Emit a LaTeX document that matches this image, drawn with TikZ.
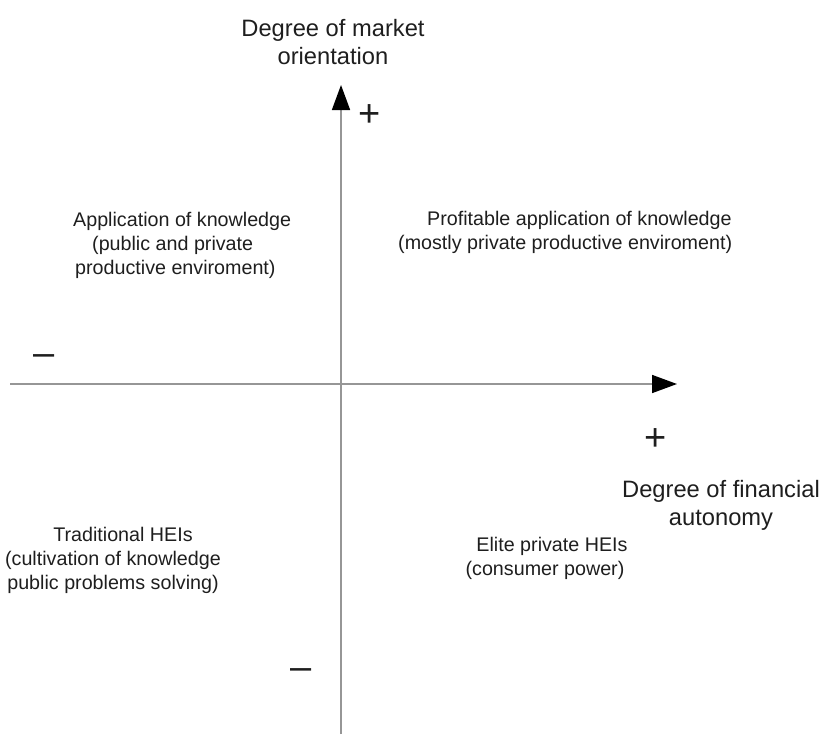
\documentclass[tikz,border=0pt]{standalone}
\usepackage{fontspec}
\setmainfont{Liberation Sans}
\usetikzlibrary{arrows.meta,positioning}

\definecolor{axisgray}{RGB}{150,150,150}
\definecolor{txtgray}{RGB}{30,30,30}

\tikzset{
  axis/.style    = {draw=axisgray, line width=1.6pt,
                    -{Triangle[length=25pt,width=18pt,color=black]}},
  axislabel/.style = {font=\fontsize{23.7}{28}\selectfont, text=txtgray,
                    align=center, inner sep=0pt},
  quadrant/.style = {font=\fontsize{19.7}{24}\selectfont, text=txtgray,
                    inner sep=0pt},
  sign/.style    = {font=\fontsize{38}{40}\selectfont, text=txtgray,
                    inner sep=0pt}
}

\begin{document}
\begin{tikzpicture}[x=1pt, y=-1pt]
	\useasboundingbox (0,0) rectangle (826,734);

	% axes
	\coordinate (xl) at (10,384);
	\coordinate (xr) at (677,384);
	\coordinate (yb) at (341,734);
	\coordinate (yt) at (341,85);
	\draw [axis] (xl) -- (xr);
	\draw [axis] (yb) -- (yt);

	% axis labels
	\node [axislabel] (ylab) at (333,42)  {Degree of market\\orientation};
	\node [axislabel] (xlab) at (721,505) {Degree of financial\\autonomy};

	% signs
	\node [sign] (yplus)  at (370,116) {+};
	\node [sign] (xplus)  at (656,440) {+};
	\node [sign] (xminus) at (44,360)  {–};
	\node [sign] (yminus) at (301,674) {–};

	% quadrants
	\node [quadrant, align=left, anchor=west] (q2) at (73,245)
		{Application of knowledge\\\hspace*{19pt}(public and private\\\hspace*{2pt}productive enviroment)};
	\node [quadrant, align=left, anchor=west] (q1) at (398,232)
		{\hspace*{29pt}Profitable application of knowledge\\(mostly private productive enviroment)};
	\node [quadrant, align=center] (q3) at (113,560)
		{\hspace*{20pt}Traditional HEIs\\(cultivation of knowledge\\public problems solving)};
	\node [quadrant, align=center] (q4) at (545,558)
		{\hspace*{14pt}Elite private HEIs\\(consumer power)};

\end{tikzpicture}
\end{document}
